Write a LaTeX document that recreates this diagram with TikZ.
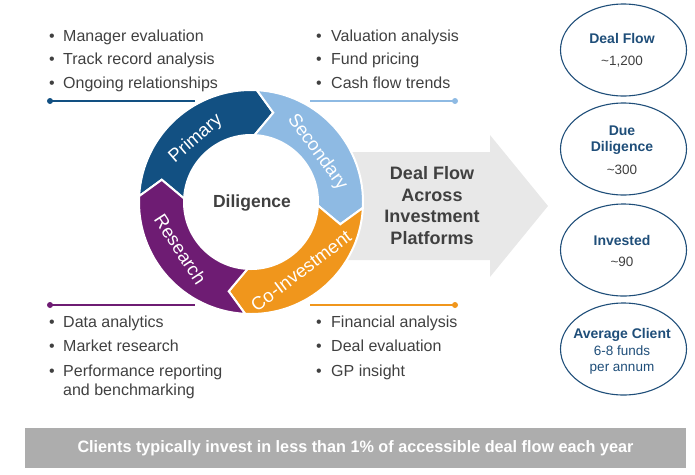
\documentclass[tikz,border=0pt]{standalone}
\usepackage{fontspec}
\setmainfont{Liberation Sans}
\usepackage{graphicx}
\usetikzlibrary{shapes.geometric}
\definecolor{cPrim}{RGB}{18,80,130}
\definecolor{cSec}{RGB}{142,186,227}
\definecolor{cCo}{RGB}{240,150,28}
\definecolor{cRes}{RGB}{110,28,115}
\definecolor{cText}{RGB}{64,64,64}
\definecolor{cEll}{RGB}{31,78,121}
\definecolor{cBanner}{RGB}{173,173,173}
\definecolor{cArrow}{RGB}{232,232,232}
\begin{document}
\begin{tikzpicture}[x=1pt,y=1pt,
  bullettxt/.style={anchor=base west, inner sep=0pt, text=cText, font=\fontsize{16}{19}\selectfont, align=left},
  bulletdot/.style={anchor=base, inner sep=0pt, text=cText, font=\fontsize{16}{19}\selectfont},
  ringlbl/.style={text=white, font=\fontsize{18.5}{20}\selectfont, inner sep=0pt},
  ellbox/.style={ellipse, draw=cEll, line width=1.1pt, minimum width=126pt, minimum height=92pt, inner sep=0pt},
  elltitle/.style={text=cEll, font=\bfseries\fontsize{14}{16}\selectfont, align=center, inner sep=0pt},
  ellnum/.style={text=cText, font=\fontsize{13.5}{16}\selectfont, inner sep=0pt},
  rule/.style={line width=1.5pt}
]
\useasboundingbox (0,0) rectangle (695,-474);

% big grey arrow
\fill[cArrow] (330,-152) -- (490,-152) -- (490,-135) -- (548,-206) -- (490,-277) -- (490,-260) -- (330,-260) -- cycle;
\node[text=cText, font=\bfseries\fontsize{18}{21.7}\selectfont, align=center, inner sep=0pt] (flow) at (432,-205.5) {Deal Flow\\Across\\Investment\\Platforms};

% ring
\begin{scope}[shift={(251,-202)}]
\foreach \a/\col in {177/cPrim, 87/cSec, -3/cCo, -93/cRes}{
  \pgfmathsetmacro\b{\a-90}
  \pgfmathsetmacro\tip{\b-11}
  \pgfmathsetmacro\notch{\a-11}
  \filldraw[fill=\col, draw=white, line width=2pt, line join=miter]
    (\a:112pt) arc[start angle=\a, end angle=\b, radius=112pt] -- (\tip:92pt) -- (\b:67pt)
    arc[start angle=\b, end angle=\a, radius=67pt] -- (\notch:92pt) -- cycle;
}
\node[ringlbl, rotate=41] (lprim) at (131:84) {Primary};
\node[ringlbl, rotate=-54] (lsec) at (37:83) {Secondary};
\node[ringlbl, rotate=37] (lco) at (-54:85) {Co-Investment};
\node[ringlbl, rotate=-57] (lres) at (214:85) {Research};
\node[text=cText, font=\bfseries\fontsize{17.5}{20}\selectfont, inner sep=0pt] (dil) at (1,-1) {Diligence};
\end{scope}

% rules with dots
\draw[rule, cPrim] (50,-101) -- (195,-101); \fill[cPrim] (50,-101) circle (3);
\draw[rule, cSec] (310,-101) -- (455,-101); \fill[cSec] (455,-101) circle (3);
\draw[rule, cRes] (50,-305) -- (195,-305); \fill[cRes] (50,-305) circle (3);
\draw[rule, cCo] (310,-305) -- (455,-305); \fill[cCo] (455,-305) circle (3);

% bullet lists
\node[bulletdot] (b1) at (52,-41) {•};   \node[bullettxt] (t1) at (63,-41) {Manager evaluation};
\node[bulletdot] (b2) at (52,-64.5) {•}; \node[bullettxt] (t2) at (63,-64.5) {Track record analysis};
\node[bulletdot] (b3) at (52,-88) {•};   \node[bullettxt] (t3) at (63,-88) {Ongoing relationships};

\node[bulletdot] (b4) at (319,-41) {•};   \node[bullettxt] (t4) at (331,-41) {Valuation analysis};
\node[bulletdot] (b5) at (319,-64.5) {•}; \node[bullettxt] (t5) at (331,-64.5) {Fund pricing};
\node[bulletdot] (b6) at (319,-88) {•};   \node[bullettxt] (t6) at (331,-88) {Cash flow trends};

\node[bulletdot] (b7) at (52,-327.5) {•}; \node[bullettxt] (t7) at (63,-327.5) {Data analytics};
\node[bulletdot] (b8) at (52,-351.5) {•}; \node[bullettxt] (t8) at (63,-351.5) {Market research};
\node[bulletdot] (b9) at (52,-376) {•};   \node[bullettxt] (t9) at (63,-376) {Performance reporting};
\node[bullettxt] (t9b) at (63,-395) {and benchmarking};

\node[bulletdot] (b10) at (319,-327.5) {•}; \node[bullettxt] (t10) at (331,-327.5) {Financial analysis};
\node[bulletdot] (b11) at (319,-351.5) {•}; \node[bullettxt] (t11) at (331,-351.5) {Deal evaluation};
\node[bulletdot] (b12) at (319,-376) {•};   \node[bullettxt] (t12) at (331,-376) {GP insight};

% ellipses
\node[ellbox] (e1) at (623.5,-50) {};
\node[ellbox] (e2) at (623.5,-149) {};
\node[ellbox] (e3) at (623.5,-250) {};
\node[ellbox] (e4) at (623.5,-349) {};

\node[elltitle] (e1t) at (622,-38) {Deal Flow};
\node[ellnum] (e1n) at (622,-62) {\textasciitilde 1,200};
\node[elltitle] (e2t) at (622,-140) {Due\\Diligence};
\node[ellnum] (e2n) at (622,-170) {\textasciitilde 300};
\node[elltitle] (e3t) at (622,-240) {Invested};
\node[ellnum] (e3n) at (622,-262) {\textasciitilde 90};
\node[elltitle] (e4t) at (622,-335) {Average Client};
\node[text=cEll, font=\fontsize{13.5}{16}\selectfont, align=center, inner sep=0pt] (e4n) at (622,-360) {6-8 funds\\per annum};

% banner
\fill[cBanner] (25,-428) rectangle (686,-468);
\node[text=white, font=\bfseries\fontsize{16.5}{19}\selectfont, inner sep=0pt] (ban) at (355.5,-448) {\resizebox{556pt}{\height}{Clients typically invest in less than 1\% of accessible deal flow each year}};
\end{tikzpicture}
\end{document}
